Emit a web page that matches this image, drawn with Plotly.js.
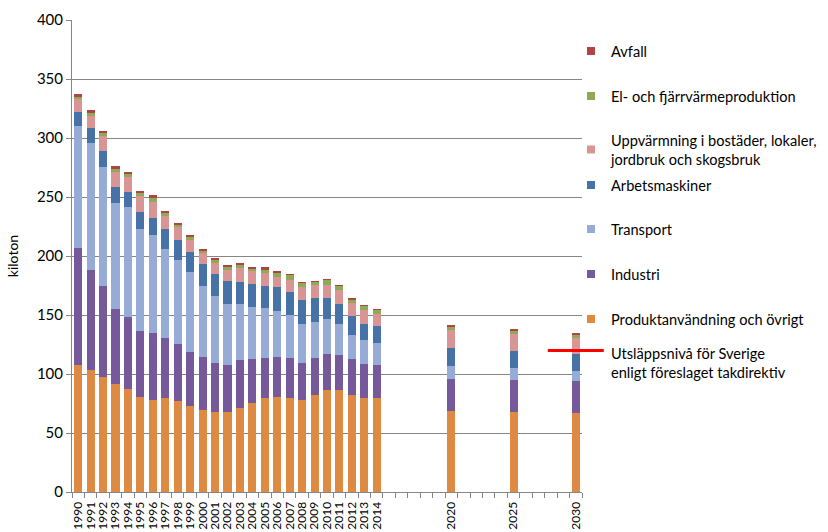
<!DOCTYPE html>
<html>
<head>
<meta charset="utf-8">
<script src="https://cdn.plot.ly/plotly-3.0.1.min.js"></script>
<style>html,body{margin:0;padding:0;background:#fff;}#chart{width:828px;height:532px;}</style>
</head>
<body>
<div id="chart"></div>
<script>
// ---- data ----
var years = [1990,1991,1992,1993,1994,1995,1996,1997,1998,1999,2000,2001,2002,2003,2004,2005,2006,2007,2008,2009,2010,2011,2012,2013,2014,2020,2025,2030];
var tickLabels = ["1990","1991","1992","1993","1994","1995","1996","1997","1998","1999","2000","2001","2002","2003","2004","2005","2006","2007","2008","2009","2010","2011","2012","2013","2014","2020","2025","2030"];

var produktanvandning = [108,103.4,97.5,91.8,87,80.5,77.7,79.7,76.8,73.2,69.2,68.1,68.1,71.2,75.7,79.7,80.5,79.4,77.7,82.5,86.2,86.2,82.5,79.7,79.7,68.6,67.5,66.7];
var industri = [98.5,85,77.1,63,61.3,56.2,57.3,50.8,48.9,45.7,45.2,41.5,39.5,40.4,36.7,33.6,33.6,33.9,31.9,31.1,31,30.2,29.9,29.1,27.9,26.9,27.4,27.4];
var transport = [103.4,107.1,101.1,90.1,92.9,86.5,82.5,75.7,71.2,67.8,59.9,56.5,51.7,47.7,44.1,42.3,39.6,37,33.1,30.8,29.1,26.3,20.9,19.7,19,11.6,10.5,8.2];
var arbetsmaskiner = [11.9,12.7,13.6,13.3,13,14.1,15,16.4,16.9,17,18.9,18.6,19.8,18.9,20.1,19,19.7,19.5,20.3,19.7,17.8,16.9,15.9,14.2,14.1,14.9,13.8,14.6];
var uppvarmning = [11,10.7,12.1,13,12.5,13.3,13.3,11.6,10.5,10.1,9.1,9.7,9.3,11.6,10.4,11.3,9.1,10.1,10.4,11.3,11.3,11.3,11.3,11.3,10.1,15,14.4,13.6];
var elFjarrvarme = [1.7,2.5,2.8,2.2,2.5,2.5,3.6,2,2,2.3,1.9,2.5,2.6,2.6,2.3,2.5,3.1,3.7,3.7,2.6,4,3.7,2.5,3.3,3.2,3.1,2.8,2.6];
var avfall = [2.8,2.3,1.7,2.6,2,2,2,1.9,1.9,1.4,2,1.7,1.1,1.4,1.1,2,2,1.1,1.1,1.1,1.4,1.1,1.1,1.2,0.8,1.1,1.5,1.4];

var takYear = [2030];
var takValue = [120];

var seriesNames = ["Produktanvändning och övrigt","Industri","Transport","Arbetsmaskiner","Uppvärmning i bostäder, lokaler,<br>jordbruk och skogsbruk","El- och fjärrvärmeproduktion","Avfall"];
var limitName = "Utsläppsnivå för Sverige<br>enligt föreslaget takdirektiv";

// ---- styles ----
var colors = ["#DF8A43","#75599B","#96ACD6","#4672A8","#D89593","#8DAA55","#B04343"];
var seriesData = [produktanvandning, industri, transport, arbetsmaskiner, uppvarmning, elFjarrvarme, avfall];
var legendCenters = [319, 274, 229, 185, 149.5, 96, 51]; // pixel centres
var limitLegendCenter = 362.5;

var plotTop = 20, plotBottom = 492, plotLeft = 72, plotRight = 582;
function py(p){ return (plotBottom - p) / (plotBottom - plotTop); }
var legendX = (571 - plotLeft) / (plotRight - plotLeft);

var FONT = "Lato, 'Open Sans', sans-serif";
var LFONT = 14.6;
var traces = [];
var layout = {
  width: 828, height: 532,
  margin: {l: plotLeft, r: 828 - plotRight, t: plotTop, b: 532 - plotBottom, autoexpand: false},
  paper_bgcolor: "#ffffff", plot_bgcolor: "#ffffff",
  font: {family: FONT, size: 14, color: "#000000"},
  barmode: "stack",
  bargap: 0,
  showlegend: true,
  xaxis: {
    range: [1989.5, 2030.5],
    tickmode: "array",
    tickvals: years,
    ticktext: tickLabels,
    tickangle: -90,
    ticks: "",
    tickfont: {size: 12, family: FONT},
    ticklabelstandoff: 4,
    showgrid: false,
    zeroline: false,
    showline: true,
    linecolor: "#868686",
    linewidth: 1,
    automargin: false,
    minor: {ticks: "outside", tickmode: "linear", tick0: 1989.5, dtick: 1, ticklen: 5, tickcolor: "#868686", showgrid: false}
  },
  yaxis: {
    range: [0, 400],
    dtick: 50,
    tick0: 0,
    ticks: "outside",
    ticklen: 5,
    tickcolor: "#868686",
    showline: true,
    linecolor: "#868686",
    gridcolor: "#868686",
    gridwidth: 1,
    zeroline: false,
    automargin: false,
    tickfont: {size: 15, family: FONT},
    title: {text: "kiloton", font: {size: 14, family: FONT}, standoff: 14}
  }
};

for (var i = 0; i < seriesData.length; i++) {
  traces.push({
    type: "bar",
    x: years,
    y: seriesData[i],
    width: 0.65,
    marker: {color: colors[i], line: {width: 0}},
    name: seriesNames[i],
    showlegend: false,
    hoverinfo: "x+y+name"
  });
}
// limit level marker
traces.push({
  type: "scatter",
  mode: "markers",
  x: takYear,
  y: takValue,
  cliponaxis: false,
  marker: {symbol: "line-ew", size: 40, color: "#FF0000", line: {color: "#FF0000", width: 3}},
  name: limitName,
  showlegend: false
});

// legend entries (each in its own legend for exact placement)
for (var j = 0; j < seriesData.length; j++) {
  var key = "legend" + (j === 0 ? "" : (j + 1));
  traces.push({
    type: "scatter", mode: "markers", x: [null], y: [null],
    marker: {symbol: "square", size: 8, color: colors[j]},
    name: seriesNames[j], legend: key, showlegend: true, hoverinfo: "skip"
  });
  layout[key] = {x: legendX, xanchor: "left", y: py(legendCenters[j]), yanchor: "middle",
    bgcolor: "rgba(0,0,0,0)", borderwidth: 0, font: {size: LFONT, family: FONT, color: "#000"}, itemclick: false};
}
var lk = "legend" + (seriesData.length + 1);
traces.push({
  type: "scatter", mode: "markers", x: [null], y: [null],
  marker: {symbol: "square", size: 8, color: "rgba(0,0,0,0)"},
  name: limitName, legend: lk, showlegend: true, hoverinfo: "skip"
});
layout[lk] = {x: legendX, xanchor: "left", y: py(limitLegendCenter), yanchor: "middle",
  bgcolor: "rgba(0,0,0,0)", borderwidth: 0, font: {size: LFONT, family: FONT, color: "#000"}, itemclick: false};

Plotly.newPlot("chart", traces, layout, {displayModeBar: false, staticPlot: true});
</script>
</body>
</html>
